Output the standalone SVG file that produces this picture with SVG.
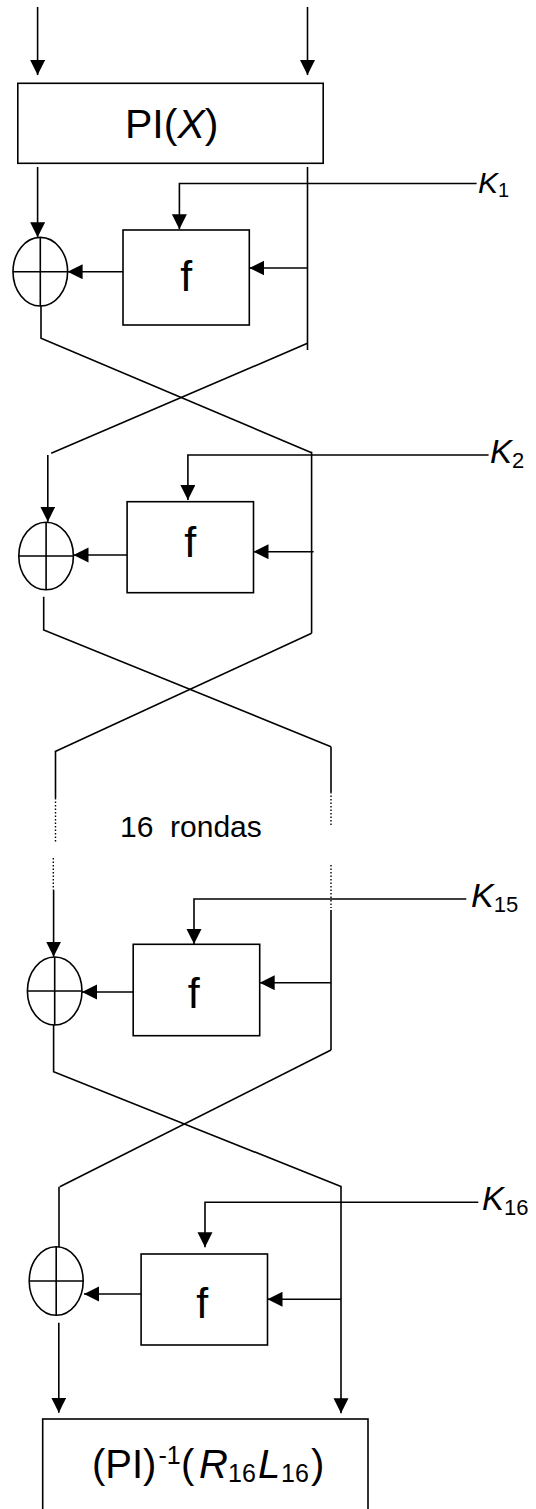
<svg xmlns="http://www.w3.org/2000/svg" width="536" height="1509" viewBox="0 0 536 1509">
<defs>
<marker id="ah" markerWidth="16" markerHeight="16" refX="15" refY="7.5" orient="auto" markerUnits="userSpaceOnUse"><path d="M0,0 L15,7.5 L0,15 z" fill="#000"/></marker>
</defs>
<style>
.ln{stroke:#000;stroke-width:1.6;fill:none}
.ar{stroke:#000;stroke-width:1.6;fill:none;marker-end:url(#ah)}
.dot{stroke:#000;stroke-width:1.4;fill:none;stroke-dasharray:1.5 2}
.box{fill:#fff;stroke:#000;stroke-width:1.6}
.xor{fill:#fff;stroke:#000;stroke-width:1.6}
.t{font-family:"Liberation Sans",Arial,sans-serif;fill:#000}
.it{font-style:italic}
</style>
<rect width="536" height="1509" fill="#fff"/>

<g id="connectors">
  <path class="ar" d="M37.6,7 V75"/>
  <path class="ar" d="M307.5,7 V75"/>
  <path class="ar" d="M37.6,167 V237.3"/>
  <path class="ar" d="M476.6,183.5 H179.4 V229.3"/>
  <path class="ar" d="M123,271.7 H67.6"/>
  <path class="ar" d="M307.5,268 H249.3"/>
  <path class="ln" d="M307.5,167 V350"/>
  <path class="ln" d="M41,306 V338.3 L311.6,452.7"/>
  <path class="ln" d="M307.5,343.3 L51.2,453.3"/>
  <path class="ar" d="M47.8,455 V521.7"/>
  <path class="ln" d="M311.6,451.7 V633.3"/>
  <path class="ar" d="M488.6,455 H187.9 V500"/>
  <path class="ar" d="M127.1,555 H73.5"/>
  <path class="ar" d="M313.6,551.7 H253.5"/>
  <path class="ln" d="M43.7,596.7 V630 L331,746.7"/>
  <path class="ln" d="M311.6,633.3 L54.7,751.7"/>
  <path class="ln" d="M55.5,751.7 V798"/>
  <path class="dot" d="M55.5,798 V841.7"/>
  <path class="dot" d="M53.3,858 V890"/>
  <path class="ar" d="M53.6,890 V956.7"/>
  <path class="ln" d="M331,746.7 V792"/>
  <path class="dot" d="M331,792 V826.7"/>
  <path class="dot" d="M331,865 V908"/>
  <path class="ln" d="M331,910 V1050"/>
  <path class="ar" d="M466.3,899 H194 V944"/>
  <path class="ar" d="M331,982.7 H259.7"/>
  <path class="ar" d="M133.2,992 H82"/>
  <path class="ln" d="M53.6,1025 V1071.7 L341.6,1186.7"/>
  <path class="ln" d="M331,1050 L59.8,1186.7"/>
  <path class="ln" d="M59,1186.7 V1247.3"/>
  <path class="ar" d="M341,1186.7 V1413.3"/>
  <path class="ar" d="M478.3,1202.3 H205 V1247.3"/>
  <path class="ar" d="M141.1,1294 H84"/>
  <path class="ar" d="M341,1299.3 H267.5"/>
  <path class="ar" d="M58.8,1322.7 V1412.7"/>
</g>

<g id="pi">
  <rect class="box" x="17.8" y="83.3" width="305.4" height="80"/>
  <text class="t" x="171.7" y="137.7" font-size="41" text-anchor="middle">PI(<tspan class="it">X</tspan>)</text>
</g>

<g id="xor1">
  <ellipse class="xor" cx="40.3" cy="271.7" rx="27.3" ry="34.3"/>
  <path class="ln" d="M40.3,237.4 V306 M13,271.7 H67.6"/>
</g>
<g id="f1">
  <rect class="box" x="123" y="230" width="126.3" height="95"/>
  <text class="t" x="186.2" y="290.7" font-size="43" text-anchor="middle">f</text>
</g>
<g id="k1">
  <text class="t" x="478" y="193" font-size="30"><tspan class="it">K</tspan><tspan font-size="20" dy="4">1</tspan></text>
</g>

<g id="xor2">
  <ellipse class="xor" cx="46.1" cy="556" rx="27.3" ry="33.8"/>
  <path class="ln" d="M46.1,522.2 V589.8 M18.8,556 H73.4"/>
</g>
<g id="f2">
  <rect class="box" x="127.1" y="501.7" width="126.4" height="91"/>
  <text class="t" x="190.3" y="556.7" font-size="43" text-anchor="middle">f</text>
</g>
<g id="k2">
  <text class="t" x="490" y="462.5" font-size="33"><tspan class="it">K</tspan><tspan font-size="22" dy="5">2</tspan></text>
</g>

<g id="rounds-label">
  <text class="t" x="120" y="836.7" font-size="30" xml:space="preserve">16  rondas</text>
</g>

<g id="xor3">
  <ellipse class="xor" cx="54.7" cy="991" rx="27.3" ry="34"/>
  <path class="ln" d="M54.7,957 V1025 M27.4,991 H82"/>
</g>
<g id="f3">
  <rect class="box" x="133.2" y="944.3" width="126.5" height="91.4"/>
  <text class="t" x="193.7" y="1008" font-size="43" text-anchor="middle">f</text>
</g>
<g id="k15">
  <text class="t" x="471" y="907" font-size="34"><tspan class="it">K</tspan><tspan font-size="22" dy="5">15</tspan></text>
</g>

<g id="xor4">
  <ellipse class="xor" cx="56.2" cy="1281" rx="27" ry="34.3"/>
  <path class="ln" d="M56.2,1246.7 V1315.3 M29.2,1281 H83.2"/>
</g>
<g id="f4">
  <rect class="box" x="141.1" y="1254" width="126.4" height="91"/>
  <text class="t" x="202.3" y="1318.3" font-size="43" text-anchor="middle">f</text>
</g>
<g id="k16">
  <text class="t" x="482" y="1210" font-size="33"><tspan class="it">K</tspan><tspan font-size="22" dy="5">16</tspan></text>
</g>

<g id="out">
  <rect class="box" x="42.7" y="1419" width="325.3" height="110"/>
  <text class="t" font-size="40"><tspan x="92" y="1478.3">(PI)</tspan><tspan x="158.5" y="1464" font-size="25">-1</tspan><tspan x="181" y="1478.3">(</tspan><tspan x="199" y="1478.3" class="it">R</tspan><tspan x="228" y="1482" font-size="25">16</tspan><tspan x="258" y="1478.3" class="it">L</tspan><tspan x="281" y="1482" font-size="25">16</tspan><tspan x="311" y="1478.3">)</tspan></text>
</g>
</svg>
